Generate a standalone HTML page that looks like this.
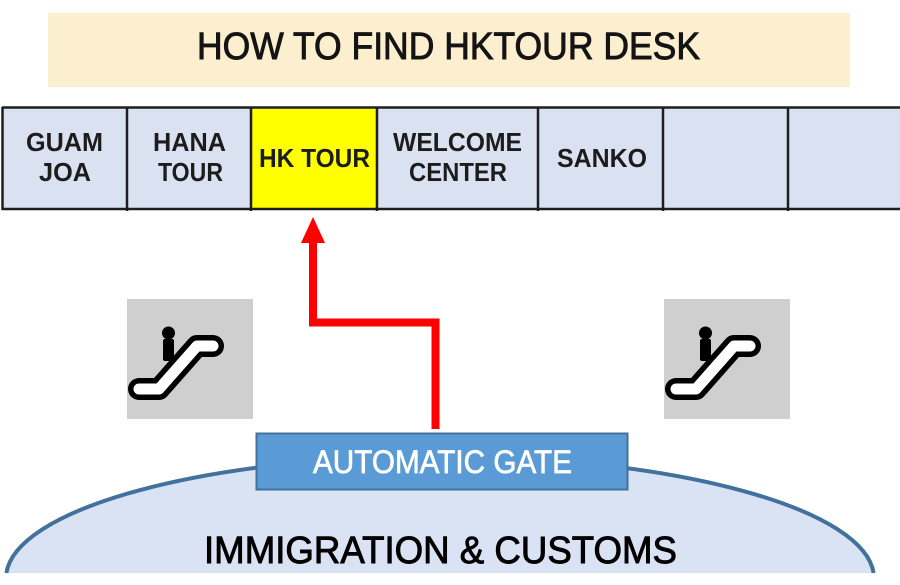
<!DOCTYPE html>
<html>
<head>
<meta charset="utf-8">
<style>
  html, body { margin: 0; padding: 0; background: #ffffff; overflow: hidden; }
  body { width: 900px; height: 585px; overflow: hidden; }
  svg { display: block; }
  text { font-family: "Liberation Sans", Arial, sans-serif; }
</style>
</head>
<body>
<svg width="900" height="585" viewBox="0 0 900 585" xmlns="http://www.w3.org/2000/svg">
  <defs>
    <g id="esc">
      <rect x="0" y="0" width="126" height="120" fill="#d0cfcf"/>
      <rect x="36" y="40" width="11" height="22" rx="2" fill="#000"/>
      <circle cx="41.5" cy="34" r="6.5" fill="#000"/>
      <path d="M12 90 L32 90 L70 47 L86 47" fill="none" stroke="#000" stroke-width="22" stroke-linecap="round" stroke-linejoin="round"/>
      <path d="M12 90 L32 90 L70 47 L86 47" fill="none" stroke="#fff" stroke-width="11" stroke-linecap="round" stroke-linejoin="round"/>
    </g>
  </defs>

  <!-- Title banner -->
  <rect x="48" y="13" width="802" height="74" fill="#fcefd0"/>
  <text x="448.5" y="59" font-size="38" fill="#141414" stroke="#141414" stroke-width="0.9" text-anchor="middle" textLength="503" lengthAdjust="spacingAndGlyphs">HOW TO FIND HKTOUR DESK</text>

  <!-- Desk table -->
  <rect x="2" y="107" width="898" height="102" fill="#dae2f2"/>
  <rect x="251" y="107" width="126" height="103" fill="#ffff00"/>
  <g stroke="#1e1e1e" stroke-width="2.5">
    <line x1="2" y1="107.5" x2="900" y2="107.5"/>
    <line x1="2" y1="209" x2="900" y2="209"/>
    <line x1="2.5" y1="107" x2="2.5" y2="210"/>
    <line x1="127" y1="107" x2="127" y2="211"/>
    <line x1="251" y1="107" x2="251" y2="211"/>
    <line x1="377" y1="107" x2="377" y2="211"/>
    <line x1="538" y1="107" x2="538" y2="211"/>
    <line x1="663" y1="107" x2="663" y2="211"/>
    <line x1="788" y1="107" x2="788" y2="211"/>
  </g>
  <g font-size="26" font-weight="bold" fill="#1c1c1c" text-anchor="middle">
    <text x="64.5" y="151" textLength="77" lengthAdjust="spacingAndGlyphs">GUAM</text>
    <text x="65" y="181" textLength="52" lengthAdjust="spacingAndGlyphs">JOA</text>
    <text x="189.5" y="151" textLength="73" lengthAdjust="spacingAndGlyphs">HANA</text>
    <text x="190.5" y="181" textLength="65" lengthAdjust="spacingAndGlyphs">TOUR</text>
    <text x="314.5" y="167" textLength="111" lengthAdjust="spacingAndGlyphs">HK TOUR</text>
    <text x="457.5" y="151" textLength="129" lengthAdjust="spacingAndGlyphs">WELCOME</text>
    <text x="458" y="181" textLength="98" lengthAdjust="spacingAndGlyphs">CENTER</text>
    <text x="602" y="167" textLength="90" lengthAdjust="spacingAndGlyphs">SANKO</text>
  </g>

  <!-- Escalator icons -->
  <use href="#esc" x="127" y="299"/>
  <use href="#esc" x="664" y="299"/>

  <!-- Red arrow -->
  <path d="M435.5 429 V322.5 H313 V238" fill="none" stroke="#ff0000" stroke-width="8" stroke-linejoin="miter"/>
  <polygon points="301,243 325,243 313,217" fill="#ff0000"/>

  <!-- Immigration area (half ellipse, cut at y=573) -->
  <path d="M6.4 573 A434 122 0 0 1 873.6 573 Z" fill="#dae3f3"/>
  <path d="M6.4 573 A434 122 0 0 1 873.6 573" fill="none" stroke="#41719c" stroke-width="4"/>
  <text x="440.5" y="563" font-size="38" fill="#000" stroke="#000" stroke-width="0.9" text-anchor="middle" textLength="473" lengthAdjust="spacingAndGlyphs">IMMIGRATION &amp; CUSTOMS</text>

  <!-- Automatic gate -->
  <rect x="256.5" y="433.5" width="371" height="56" fill="#5b9bd5" stroke="#41719c" stroke-width="2"/>
  <text x="442.5" y="473" font-size="32" fill="#ffffff" stroke="#ffffff" stroke-width="0.7" text-anchor="middle" textLength="259" lengthAdjust="spacingAndGlyphs">AUTOMATIC GATE</text>
</svg>
</body>
</html>
